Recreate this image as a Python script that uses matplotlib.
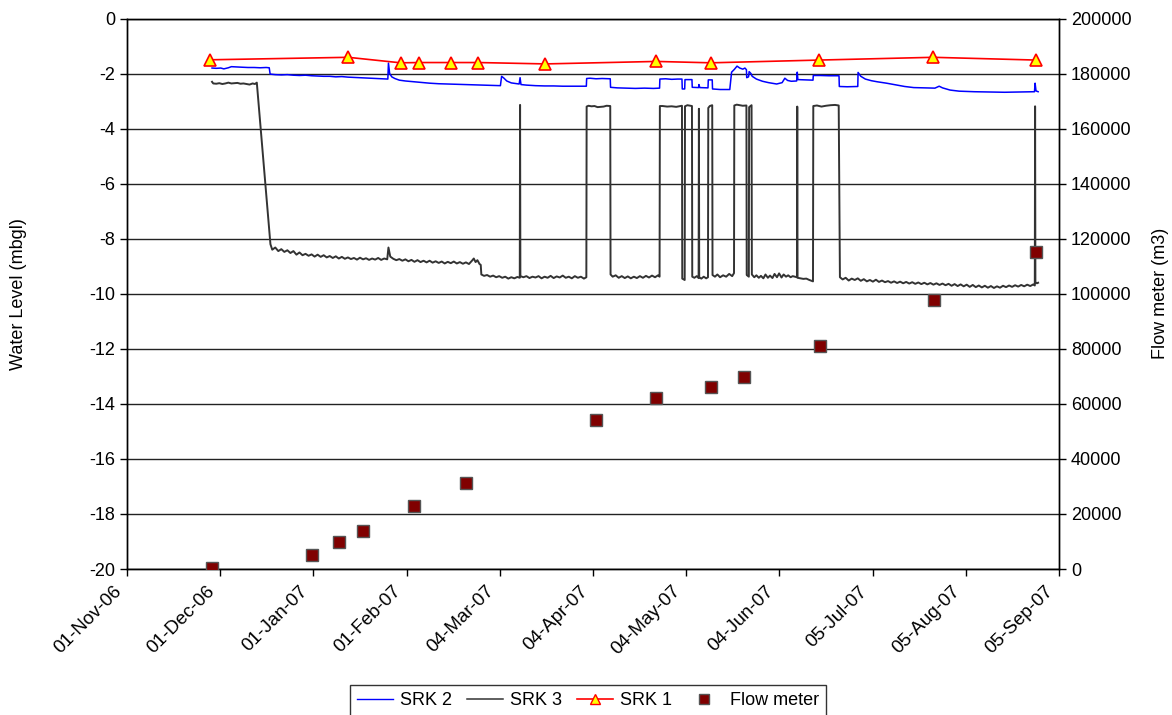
import numpy as np
import matplotlib
matplotlib.use("Agg")
import matplotlib.pyplot as plt
import matplotlib.dates as mdates
import matplotlib.transforms as mtransforms
from matplotlib.lines import Line2D
from datetime import datetime

plt.rcParams['font.family'] = ['Liberation Sans', 'DejaVu Sans']
plt.rcParams['axes.unicode_minus'] = False

# Days since 01-Nov-2006
START = datetime(2006, 11, 1)

# SRK 1 manual dips
srk1_day = [27.4, 73.1, 90.4, 96.5, 107.1, 116.1, 138.3, 174.9, 193.0, 228.8, 266.4, 300.4]
srk1_level = [-1.50, -1.41, -1.61, -1.60, -1.60, -1.60, -1.65, -1.56, -1.61, -1.51, -1.41, -1.51]

# Cumulative flow meter readings (m3)
flow_day = [28.0, 61.2, 70.1, 78.0, 94.8, 112.0, 155.0, 174.8, 193.0, 203.9, 229.0, 266.7, 300.4]
flow_m3 = [300, 5100, 9800, 13800, 22900, 31300, 54200, 62200, 66200, 69800, 81100, 97800, 115000]

# SRK 2 logger
srk2_day = [28.1, 29.5, 31, 32, 33.5, 34.5, 36, 38, 40, 42, 44, 46, 47.0, 47.3, 49, 51, 53, 55,
            57, 59, 61, 63, 65, 67, 69, 71, 73, 75, 77, 79, 81, 83, 85, 86.2, 86.4, 86.8, 87.5,
            88.5, 90, 92, 94, 96, 98, 100, 103, 106, 109, 112, 115, 118, 121, 123.4, 123.8,
            124.5, 125.5, 127, 129.6, 129.9, 130.2, 132, 135, 138, 141, 144, 147, 151.8, 151.9,
            153, 155, 157, 159.7, 159.8, 162, 165, 168, 171, 174, 176.0, 176.1, 178, 180, 182,
            183.4, 183.5, 184.3, 184.4, 186.7, 186.8, 188.9, 189.0, 189.3, 192.0, 192.1, 193.4,
            193.5, 196, 199.2, 199.8, 200.7, 201.6, 202.5, 203.5, 204.2, 204.7, 204.8, 205.4,
            205.6, 206.2, 206.6, 208, 210, 212, 214.7, 216.5, 217.4, 218.3, 219.5, 221.3, 221.5,
            221.7, 224, 226.7, 226.8, 229, 232, 235.3, 235.4, 238, 241.5, 241.6, 242.5, 244, 246,
            248, 251, 254, 257, 260, 264, 267, 268.4, 269.5, 272, 275, 280, 285, 290, 295, 299.9,
            300.1, 300.4, 301.1]
srk2_level = [-1.80, -1.81, -1.80, -1.83, -1.79, -1.75, -1.76, -1.77, -1.78, -1.78, -1.79, -1.78,
              -1.79, -2.02, -2.04, -2.05, -2.04, -2.06, -2.07, -2.06, -2.08, -2.09, -2.10, -2.10,
              -2.12, -2.11, -2.13, -2.14, -2.15, -2.16, -2.17, -2.18, -2.19, -2.20, -1.62, -2.00,
              -2.12, -2.18, -2.24, -2.27, -2.29, -2.31, -2.33, -2.35, -2.37, -2.38, -2.39, -2.40,
              -2.41, -2.42, -2.43, -2.44, -2.10, -2.16, -2.27, -2.34, -2.38, -2.15, -2.40, -2.42,
              -2.44, -2.45, -2.45, -2.46, -2.46, -2.46, -2.18, -2.17, -2.19, -2.18, -2.19, -2.50,
              -2.52, -2.53, -2.54, -2.53, -2.54, -2.53, -2.20, -2.19, -2.21, -2.20, -2.20, -2.56,
              -2.56, -2.22, -2.22, -2.50, -2.51, -2.40, -2.51, -2.52, -2.23, -2.23, -2.56, -2.58,
              -2.58, -1.95, -1.85, -1.73, -1.80, -1.84, -1.80, -1.86, -2.15, -2.12, -1.93, -2.00,
              -2.10, -2.20, -2.28, -2.33, -2.38, -2.33, -2.17, -2.25, -2.28, -2.27, -1.95, -2.22,
              -2.23, -2.24, -2.07, -2.07, -2.08, -2.08, -2.47, -2.48, -2.47, -1.96, -2.10, -2.20,
              -2.26, -2.30, -2.35, -2.41, -2.47, -2.51, -2.52, -2.53, -2.46, -2.52, -2.60, -2.64,
              -2.66, -2.67, -2.68, -2.67, -2.66, -2.35, -2.63, -2.66]

# SRK 3 logger
srk3_day = [28.1, 28.5, 29.5, 30.5, 31.5, 32.5, 33.5, 34.5, 35.5, 36.5, 37.5, 38.5, 39.5, 40.5,
            41.5, 42.3, 42.9,
            47.4, 48, 49, 50, 51, 52, 53, 54, 55, 56, 57, 58, 59, 60, 61, 62, 63, 64, 65, 66, 67,
            68, 69, 70, 71, 72, 73, 74, 75, 76, 77, 78, 79, 80, 81, 82, 83, 84, 85, 86, 86.4, 87,
            88, 89, 90, 91, 92, 93, 94, 95, 96, 97, 98, 99, 100, 101, 102, 103, 104, 105, 106,
            107, 108, 109, 110, 111, 112, 113, 114, 114.6, 115.2, 115.8, 116.5, 116.9, 117.1,
            118, 119, 120, 121, 122, 123, 124, 125, 126, 127, 128, 129, 129.8, 129.9, 130.0, 131,
            132, 133, 134, 135, 136, 137, 138, 139, 140, 141, 142, 143, 144, 145, 146, 147, 148,
            149, 150, 151, 151.8, 151.9,
            152.5, 153.5, 154.5, 155.5, 156.5, 157.5, 158.5, 159.7, 159.8,
            160.5, 161.5, 162.5, 163.5, 164.5, 165.5, 166.5, 167.5, 168.5, 169.5, 170.5, 171.5,
            172.5, 173.5, 174.5, 175.5, 176.0, 176.1,
            177, 178.5, 180, 181.5, 183.4, 183.5, 184.3, 184.4, 185.2, 186.7, 186.8, 187.5, 188.3,
            188.9, 189.0, 189.1, 189.8, 190.6, 191.4, 192.0, 192.1, 192.6, 193.4, 193.5, 194.3,
            195.1, 196, 197, 198, 199, 200, 200.6, 200.7, 201.5, 202.5, 203.5, 204.7, 204.8,
            205.5, 205.6, 206.4, 206.5, 207.3, 208, 208.8, 209.5, 210.3, 211, 211.8, 212.5, 213.3,
            214, 214.8, 215.5, 216.3, 217, 217.8, 218.5, 219.3, 220, 221.4, 221.5, 221.6, 222.5,
            223.5, 224.5, 225.5, 226.7, 226.8, 228, 229.5, 231, 232.5, 234, 235.2, 235.6,
            236.5, 237.5, 238.5, 239.5, 240.5, 241.5, 242.5, 243.5, 244.5, 245.5, 246.5, 247.5,
            248.5, 249.5, 250.5, 251.5, 252.5, 253.5, 254.5, 255.5, 256.5, 257.5, 258.5, 259.5,
            260.5, 261.5, 262.5, 263.5, 264.5, 265.5, 266.5, 267.5, 268.5, 269.5, 270.5, 271.5,
            272.5, 273.5, 274.5, 275.5, 276.5, 277.5, 278.5, 279.5, 280.5, 281.5, 282.5, 283.5,
            284.5, 285.5, 286.5, 287.5, 288.5, 289.5, 290.5, 291.5, 292.5, 293.5, 294.5, 295.5,
            296.5, 297.5, 298.5, 299.5, 300.0, 300.1, 300.2, 300.7, 301.1]
srk3_level = [-2.30, -2.36, -2.37, -2.35, -2.38, -2.36, -2.33, -2.36, -2.35, -2.34, -2.37, -2.36,
              -2.38, -2.40, -2.36, -2.38, -2.33,
              -8.20, -8.40, -8.32, -8.45, -8.38, -8.48, -8.42, -8.52, -8.45, -8.58, -8.50, -8.60,
              -8.55, -8.62, -8.57, -8.65, -8.58, -8.66, -8.60, -8.68, -8.63, -8.70, -8.64, -8.72,
              -8.66, -8.73, -8.68, -8.74, -8.70, -8.76, -8.69, -8.75, -8.71, -8.77, -8.72, -8.76,
              -8.70, -8.77, -8.72, -8.75, -8.32, -8.65, -8.73, -8.78, -8.74, -8.80, -8.75, -8.82,
              -8.77, -8.84, -8.78, -8.85, -8.80, -8.86, -8.80, -8.87, -8.82, -8.88, -8.83, -8.90,
              -8.84, -8.89, -8.83, -8.90, -8.85, -8.91, -8.86, -8.92, -8.80, -8.72, -8.85, -8.78,
              -8.92, -8.95, -9.30,
              -9.35, -9.32, -9.38, -9.34, -9.40, -9.36, -9.42, -9.38, -9.45, -9.40, -9.44, -9.39,
              -9.42, -3.14, -9.36, -9.40, -9.36, -9.43, -9.38, -9.41, -9.36, -9.44, -9.38, -9.42,
              -9.35, -9.43, -9.37, -9.41, -9.34, -9.42, -9.38, -9.44, -9.36, -9.42, -9.38, -9.45,
              -9.40, -3.20,
              -3.17, -3.19, -3.18, -3.22, -3.21, -3.20, -3.17, -3.18, -9.30,
              -9.38, -9.33, -9.42, -9.36, -9.43, -9.37, -9.44, -9.38, -9.43, -9.36, -9.42, -9.35,
              -9.41, -9.34, -9.40, -9.33, -9.38, -3.18,
              -3.18, -3.20, -3.19, -3.21, -3.17, -9.45, -9.50, -3.19, -3.15, -3.18, -9.38, -9.42,
              -9.36, -9.43, -3.28, -9.40, -9.45, -9.38, -9.44, -9.40, -3.25, -3.18, -3.15, -9.32,
              -9.38, -9.30, -9.40, -9.33, -9.38, -9.28, -9.36, -9.25, -3.16, -3.13, -3.15, -3.17,
              -3.16, -9.32, -9.38, -3.22, -3.15, -9.30, -9.40, -9.33, -9.42, -9.35, -9.44, -9.30,
              -9.42, -9.34, -9.43, -9.28, -9.40, -9.26, -9.41, -9.30, -9.38, -9.33, -9.40, -9.36,
              -9.40, -3.20, -9.42, -9.44, -9.46, -9.45, -9.50, -9.55, -3.18, -3.16, -3.20, -3.17,
              -3.15, -3.14, -3.16, -9.40,
              -9.48, -9.42, -9.52, -9.45, -9.50, -9.44, -9.53, -9.47, -9.55, -9.50, -9.56, -9.49,
              -9.57, -9.52, -9.58, -9.54, -9.60, -9.55, -9.61, -9.56, -9.62, -9.57, -9.63, -9.58,
              -9.64, -9.59, -9.65, -9.60, -9.66, -9.61, -9.67, -9.62, -9.68, -9.63, -9.69, -9.64,
              -9.71, -9.65, -9.72, -9.66, -9.73, -9.67, -9.75, -9.68, -9.76, -9.70, -9.77, -9.71,
              -9.78, -9.72, -9.79, -9.73, -9.78, -9.71, -9.76, -9.70, -9.75, -9.69, -9.74, -9.68,
              -9.73, -9.67, -9.72, -9.66, -9.70, -3.19, -9.58, -9.62, -9.60]

# Date axis: 308-day window, major unit 30.8 days
AXIS_DAYS = 308
N_TICKS = 10
level_ticks = list(range(-20, 1, 2))
flow_ticks = list(range(0, 200001, 20000))

x0 = mdates.date2num(START)


def to_x(days):
    return x0 + np.asarray(days, dtype=float)


FS = 13
fig = plt.figure(figsize=(11.72, 7.15), dpi=100)
ax = fig.add_axes([127 / 1172, 1 - 569 / 715, (1059 - 127) / 1172, (569 - 18.5) / 715])
ax2 = ax.twinx()

ax.plot(to_x(srk2_day), srk2_level, color='#0000FF', lw=1.1, label='SRK 2', zorder=3)
ax.plot(to_x(srk3_day), srk3_level, color='#333333', lw=1.4, label='SRK 3', zorder=2)
ax.plot(to_x(srk1_day), srk1_level, color='#FF0000', lw=1.2, marker='^', ms=8,
        mfc='#FFFF00', mec='#FF0000', mew=1.2, label='SRK 1', zorder=4)
ax2.plot(to_x(flow_day), flow_m3, ls='none', marker='s', ms=8, mfc='#800000',
         mec='#555555', mew=1.0, label='Flow meter', zorder=5)

ax.set_xlim(x0, x0 + AXIS_DAYS)
ax.set_ylim(-20, 0)
ax2.set_ylim(0, 200000)
ax.set_yticks(level_ticks)
ax2.set_yticks(flow_ticks)
ax.set_xticks(x0 + np.arange(N_TICKS + 1) * AXIS_DAYS / N_TICKS)
ax.xaxis.set_major_formatter(mdates.DateFormatter('%d-%b-%y'))

ax.grid(axis='y', color='#222222', lw=1.0)
ax.set_axisbelow(True)
ax.tick_params(axis='both', labelsize=FS, direction='out', length=5, width=1, colors='black')
ax.tick_params(axis='x', labelsize=13.5)
ax2.tick_params(axis='y', labelsize=FS, direction='out', length=5, width=1)

shift = mtransforms.ScaledTranslation(-14 / 100, -2 / 100, fig.dpi_scale_trans)
for lbl in ax.get_xticklabels():
    lbl.set_rotation(45)
    lbl.set_ha('right')
    lbl.set_rotation_mode('anchor')
    lbl.set_transform(lbl.get_transform() + shift)

for a in (ax, ax2):
    for s in a.spines.values():
        s.set_color('black')
        s.set_linewidth(1.0)
ax.spines['top'].set_color('#222222')

ax.set_ylabel('Water Level (mbgl)', fontsize=FS, labelpad=45)
ax2.set_ylabel('Flow meter (m3)', fontsize=FS, rotation=90, labelpad=15)

handles = [Line2D([], [], color='#0000FF', lw=1.0),
           Line2D([], [], color='#333333', lw=1.1),
           Line2D([], [], color='#FF0000', lw=1.2, marker='^', ms=7, mfc='#FFFF00', mec='#FF0000'),
           Line2D([], [], ls='none', marker='s', ms=7, mfc='#800000', mec='#555555')]
labels = ['SRK 2', 'SRK 3', 'SRK 1', 'Flow meter']
leg = fig.legend(handles, labels, loc='upper center', bbox_to_anchor=(588 / 1172, 1 - 685 / 715),
                 ncol=4, fontsize=FS, frameon=True, fancybox=False, edgecolor='black',
                 borderaxespad=0, handlelength=2.0, handletextpad=0.4, columnspacing=0.8,
                 borderpad=0.4)
leg.get_frame().set_linewidth(1.0)

fig.savefig('out.png', dpi=100, facecolor='white')
